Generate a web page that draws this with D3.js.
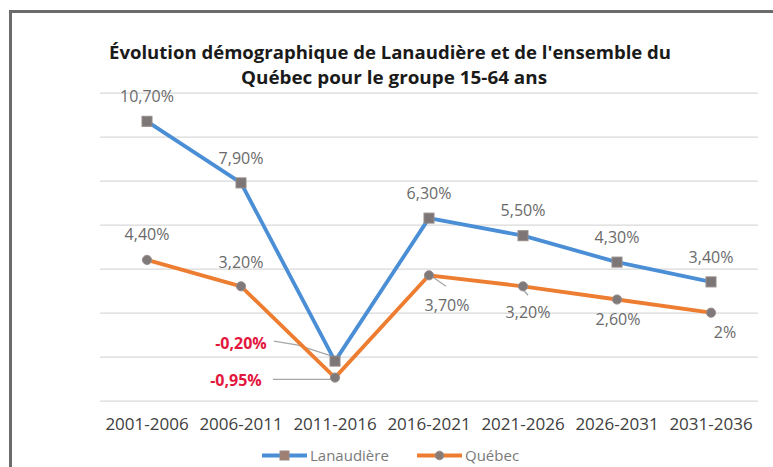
<!DOCTYPE html>
<html><head><meta charset="utf-8">
<script src="https://cdn.jsdelivr.net/npm/d3@7"></script>
<style>
html,body{margin:0;padding:0;background:#fff;}
svg{display:block;font-family:"Open Sans",sans-serif;}
</style></head>
<body>
<svg id="chart" width="773" height="467"></svg>
<script>
const categories = ["2001-2006","2006-2011","2011-2016","2016-2021","2021-2026","2026-2031","2031-2036"];
const lanaudiere = [10.7, 7.9, -0.2, 6.3, 5.5, 4.3, 3.4];
const quebec = [4.4, 3.2, -0.95, 3.7, 3.2, 2.6, 2.0];
const lanaudiereLabels = ["10,70%","7,90%","-0,20%","6,30%","5,50%","4,30%","3,40%"];
const quebecLabels = ["4,40%","3,20%","-0,95%","3,70%","3,20%","2,60%","2%"];
const yTicks = [-2,0,2,4,6,8,10,12];
const seriesNames = ["Lanaudière","Québec"];
const titleLines = ["Évolution démographique de Lanaudière et de l'ensemble du","Québec pour le groupe 15-64 ans"];

// label placement (styling, offsets from point in px)
const lanLabelOff = [[0,-25],[0,-25],[-94,-18],[0,-25],[0,-25],[0,-25],[0,-25]];
const queLabelOff = [[0,-26],[0,-24],[-99,2.5],[18,30],[5,26],[1,20],[14,20]];

const svg = d3.select("#chart");
const blue = "#4a8ed6", orange = "#ed7d31";

// frame
svg.append("rect").attr("x",10.5).attr("y",11.5).attr("width",800).attr("height",500)
  .attr("fill","#fff").attr("stroke","#6b6b6b").attr("stroke-width",3);

const x = d3.scaleBand().domain(categories).range([100,758]).padding(0);
const y = d3.scaleLinear().domain([-2,12]).range([400.7,92.7]);
const cx = c => x(c) + x.bandwidth()/2;

// gridlines
const grid = svg.append("g").attr("transform","translate(100,0)")
  .call(d3.axisLeft(y).tickValues(yTicks).tickSize(-658).tickFormat(""));
grid.select(".domain").remove();
grid.selectAll(".tick line").attr("stroke","#d9d9d9").attr("stroke-width",1.2);

// x axis labels
const xa = svg.append("g").attr("transform","translate(0,400.7)")
  .call(d3.axisBottom(x).tickSize(0).tickPadding(17));
xa.select(".domain").remove();
xa.selectAll("text").attr("font-size",17).attr("fill","#404040").attr("font-family","'Open Sans',sans-serif");

// title
svg.append("g").selectAll("text").data(titleLines).join("text")
  .attr("x",(d,i)=> i===0 ? 390 : 394)
  .attr("y",(d,i)=> 59 + i*25)
  .attr("text-anchor","middle")
  .attr("font-weight",700).attr("font-size",17).attr("fill","#1a1a1a")
  .attr("textLength",(d,i)=> i===0 ? 562 : 306)
  .attr("lengthAdjust","spacingAndGlyphs")
  .text(d=>d);

const line = d3.line().x((d,i)=>cx(categories[i])).y(d=>y(d));

// leader lines
const c2 = cx(categories[2]);
const leaders = svg.append("g").attr("stroke","#a6a6a6").attr("stroke-width",1.3).attr("fill","none");
leaders.append("path").attr("d", `M${c2-61},${y(lanaudiere[2])-20} L${c2-37},${y(lanaudiere[2])-16} L${c2},${y(lanaudiere[2])-4}`);
leaders.append("path").attr("d", `M${c2-62},${y(quebec[2])+1.7} L${c2-4},${y(quebec[2])+1.7}`);
leaders.append("path").attr("d", `M${cx(categories[3])+4},${y(quebec[3])+2} L${cx(categories[3])+17},${y(quebec[3])+11}`);
leaders.append("path").attr("d", `M${cx(categories[4])-2},${y(quebec[4])+1} L${cx(categories[4])+5},${y(quebec[4])+9}`);

// lines
svg.append("path").datum(quebec).attr("d",line).attr("fill","none").attr("stroke",orange).attr("stroke-width",3.8).attr("stroke-linejoin","round");
svg.append("path").datum(lanaudiere).attr("d",line).attr("fill","none").attr("stroke",blue).attr("stroke-width",3.8).attr("stroke-linejoin","round");

// markers
svg.append("g").selectAll("circle").data(quebec).join("circle")
  .attr("cx",(d,i)=>cx(categories[i])).attr("cy",d=>y(d)).attr("r",4.6)
  .attr("fill","#80797a").attr("stroke","#9a8f8c").attr("stroke-width",1);
svg.append("g").selectAll("rect").data(lanaudiere).join("rect")
  .attr("x",(d,i)=>cx(categories[i])-5).attr("y",d=>y(d)-5).attr("width",10).attr("height",10)
  .attr("fill","#7c7676").attr("stroke","#958a88").attr("stroke-width",1);

// data labels
function labels(vals, labs, offs){
  svg.append("g").selectAll("text").data(vals).join("text")
    .attr("x",(d,i)=>cx(categories[i])+offs[i][0])
    .attr("y",(d,i)=>y(d)+offs[i][1])
    .attr("dy","0.36em")
    .attr("text-anchor","middle")
    .attr("font-size",16)
    .attr("font-weight",(d,i)=> d<0 ? 700 : 400)
    .attr("fill",(d,i)=> d<0 ? "#e3173e" : "#6a6a6a")
    .text((d,i)=>labs[i]);
}
labels(lanaudiere, lanaudiereLabels, lanLabelOff);
labels(quebec, quebecLabels, queLabelOff);

// legend
const leg = svg.append("g").attr("transform","translate(0,455.5)");
const legItems = [{name:seriesNames[0], color:blue, x0:262, shape:"rect"},{name:seriesNames[1], color:orange, x0:417, shape:"circle"}];
legItems.forEach(it=>{
  leg.append("line").attr("x1",it.x0).attr("x2",it.x0+45).attr("y1",0).attr("y2",0)
    .attr("stroke",it.color).attr("stroke-width",3.8);
  if(it.shape==="rect"){
    leg.append("rect").attr("x",it.x0+22.5-4.5).attr("y",-4.5).attr("width",9).attr("height",9)
      .attr("fill","#a07f70").attr("stroke","#958a88");
  } else {
    leg.append("circle").attr("cx",it.x0+22.5).attr("cy",0).attr("r",4.3).attr("fill","#8a7a74").attr("stroke","#9a8f8c");
  }
  leg.append("text").attr("x",it.x0+48).attr("y",0).attr("dy","0.36em")
    .attr("font-size",15).attr("fill","#7a7a7a").text(it.name);
});
</script>
</body></html>
